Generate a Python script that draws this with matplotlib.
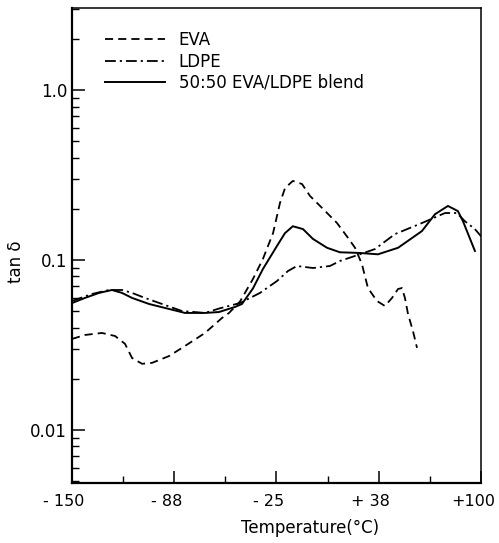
import matplotlib
matplotlib.use("Agg")
import matplotlib.pyplot as plt
import matplotlib.transforms as mtransforms
from matplotlib.ticker import FixedLocator, LogLocator, NullFormatter

# EVA (dashed)
eva_t = [-150, -142.1, -131.7, -123.7, -117.6, -113.3, -107.2, -101.1, -90.7, -80.9,
         -68.7, -58.3, -54, -47.3, -39.4, -33.3, -27.1, -22.9, -19.8, -15, -9.4,
         -4.5, 3.4, 12, 18.7, 23, 27.2, 30.9, 36.4, 41.3, 45.6, 49.3, 51.7, 53.5,
         55.4, 58.4, 60.9]
eva_tan = [0.0343, 0.0362, 0.0372, 0.0357, 0.0321, 0.0265, 0.0245, 0.0248, 0.0272,
           0.0312, 0.0372, 0.0456, 0.0488, 0.057, 0.0773, 0.1014, 0.144, 0.216,
           0.265, 0.292, 0.280, 0.238, 0.2, 0.165, 0.135, 0.118, 0.0947, 0.0684,
           0.0574, 0.0536, 0.0598, 0.0675, 0.0684, 0.0598, 0.0481, 0.0382, 0.0304]

# LDPE (dash-dot)
ldpe_t = [-150, -137.8, -127.4, -119.4, -113.3, -105.4, -95, -82.8, -68.7, -59.5,
          -47.3, -35.1, -24.7, -18, -12.5, -2.7, 7.7, 13.8, 26, 35.2, 47.4, 63.9,
          78, 85.3, 90.2, 96.3, 100]
ldpe_tan = [0.0574, 0.0631, 0.0666, 0.0666, 0.064, 0.0598, 0.0551, 0.0501, 0.0488,
            0.052, 0.0558, 0.064, 0.0752, 0.0861, 0.0922, 0.0897, 0.0922, 0.0987,
            0.108, 0.116, 0.142, 0.165, 0.189, 0.189, 0.169, 0.152, 0.138]

# 50:50 EVA/LDPE blend (solid)
blend_t = [-150, -142.1, -133.5, -125.6, -119.4, -113.3, -102.9, -90.7, -80.9, -68.7,
           -60.2, -50.4, -46.1, -39.4, -33.3, -24.7, -19.8, -15, -8.8, -2.7, 5.9,
           13.8, 26, 37, 49.3, 63.9, 71.9, 79.8, 85.9, 89, 96.3]
blend_tan = [0.0558, 0.0598, 0.064, 0.0666, 0.064, 0.0598, 0.0551, 0.0515, 0.0488,
             0.0488, 0.0494, 0.0529, 0.0551, 0.068, 0.0885, 0.121, 0.144, 0.158,
             0.152, 0.133, 0.118, 0.111, 0.11, 0.108, 0.118, 0.148, 0.186, 0.208,
             0.194, 0.169, 0.113]

x_ticks = [-150, -87.5, -25, 37.5, 100]
x_labels = ["- 150", "- 88", "- 25", "+ 38", "+100"]
y_ticks = [0.01, 0.1, 1.0]
y_labels = ["0.01", "0.1", "1.0"]

fig = plt.figure(figsize=(4.99, 5.43), dpi=100)
ax = fig.add_axes([0.1443, 0.1105, 0.8196, 0.8747])

ax.plot(eva_t, eva_tan, color="black", lw=1.3, ls=(0, (4.5, 2.8)), label="EVA")
ax.plot(ldpe_t, ldpe_tan, color="black", lw=1.3, ls=(0, (6, 2.2, 1.2, 2.2)), label="LDPE")
ax.plot(blend_t, blend_tan, color="black", lw=1.4, ls="-", label="50:50 EVA/LDPE blend")

ax.set_yscale("log")
ax.set_xlim(-150, 100)
ax.set_ylim(0.00487, 3.04)

ax.set_xticks(x_ticks)
ax.set_xticklabels(x_labels, fontsize=11.5)
ax.xaxis.set_minor_locator(FixedLocator([-118.75, -56.25, 6.25, 68.75]))
ax.set_yticks(y_ticks)
ax.set_yticklabels(y_labels, fontsize=12)
ax.yaxis.set_minor_locator(LogLocator(base=10, subs=range(2, 10)))
ax.yaxis.set_minor_formatter(NullFormatter())

ax.tick_params(which="both", direction="in", top=False, right=False, colors="black")
ax.tick_params(which="major", length=9, width=1.1)
ax.tick_params(which="minor", length=5, width=1.0)
ax.tick_params(axis="x", pad=8)

# labels on the x axis sit a little left of their ticks in the original
shift = mtransforms.ScaledTranslation(-0.08, 0, fig.dpi_scale_trans)
for lab in ax.get_xticklabels():
    lab.set_transform(lab.get_transform() + shift)

for side in ["left", "bottom"]:
    ax.spines[side].set_linewidth(1.6)
for side in ["top", "right"]:
    ax.spines[side].set_linewidth(1.1)

ax.set_xlabel("Temperature(°C)", fontsize=12)
ax.xaxis.set_label_coords(0.582, -0.075)
ax.set_ylabel("tan δ", fontsize=12)
ax.yaxis.set_label_coords(-0.115, 0.465)

ax.legend(loc="upper left", bbox_to_anchor=(0.065, 0.965), frameon=False,
          fontsize=12, handlelength=3.6, handletextpad=0.8, labelspacing=0.2,
          borderaxespad=0)

fig.savefig("out.png", dpi=100)
